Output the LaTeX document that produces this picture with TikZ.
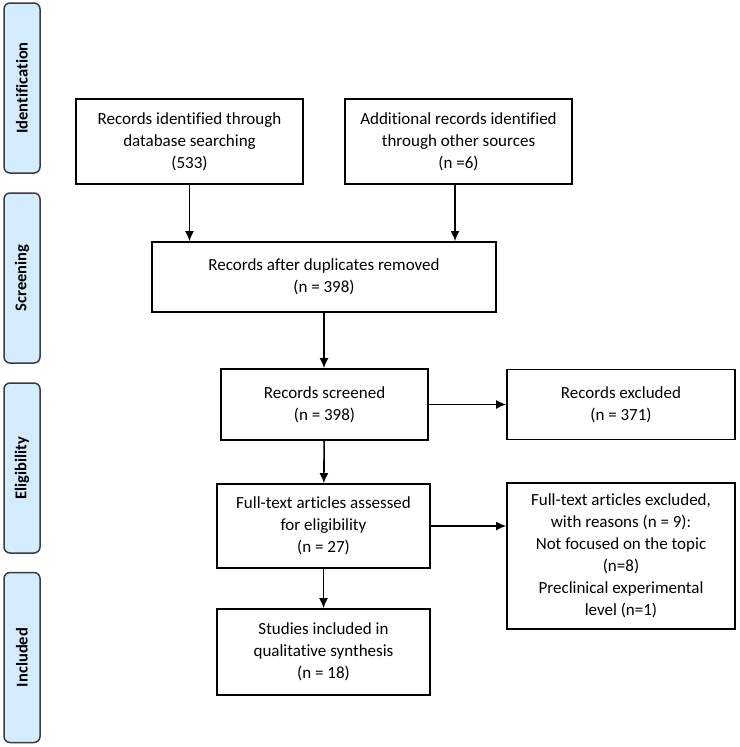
\documentclass[tikz,border=0pt]{standalone}
\usepackage{fontspec}
\setmainfont[Ligatures=NoCommon]{Carlito}
\usetikzlibrary{arrows.meta}
\definecolor{phasefill}{RGB}{211,236,254}
\definecolor{phasedraw}{RGB}{60,60,60}
\tikzset{
	flowbox/.style={draw, line width=1.6pt, align=center, inner sep=0pt, font=\fontsize{17}{22}\selectfont},
	phase/.style={draw=phasedraw, fill=phasefill, line width=1.5pt, rounded corners=6pt, rotate=90,
		minimum width=170pt, minimum height=36pt, inner sep=0pt, font=\bfseries\fontsize{16.5}{20}\selectfont},
	flow/.style={-{Latex[length=10pt,width=9pt]}, line width=1.6pt}
}
\begin{document}
\begin{tikzpicture}[x=1pt,y=-1pt]
			\useasboundingbox (0,0) rectangle (739,747);
			\node[phase] (ident) at (22,88) {Identification};
			\node[phase] (screen) at (22,278) {Screening};
			\node[phase] (elig) at (22,468) {Eligibility};
			\node[phase] (incl) at (22,657.5) {Included};
			
			\node[flowbox, minimum width=227pt, minimum height=85pt] (dbrec) at (189.5,141.5) {Records identified through\\database searching\\(533)};
			\node[flowbox, minimum width=227pt, minimum height=85pt] (otherrec) at (458.5,141.5) {Additional records identified\\through other sources\\(n =6)};
			\node[flowbox, minimum width=344pt, minimum height=70pt] (dupl) at (324,277) {Records after duplicates removed\\(n = 398)};
			\node[flowbox, minimum width=207pt, minimum height=71pt] (screened) at (324.5,404.5) {Records screened\\(n = 398)};
			\node[flowbox, minimum width=228pt, minimum height=70pt] (excl) at (621,404.5) {Records excluded\\(n = 371)};
			\node[flowbox, minimum width=213pt, minimum height=84pt] (fulltext) at (323.5,526) {Full-text articles assessed\\for eligibility\\(n = 27)};
			\node[flowbox, minimum width=228pt, minimum height=146pt] (ftexcl) at (621,556) {Full-text articles excluded,\\with reasons (n = 9):\\Not focused on the topic\\(n=8)\\Preclinical experimental\\level (n=1)};
			\node[flowbox, minimum width=213pt, minimum height=86pt] (studies) at (323.5,652) {Studies included in\\qualitative synthesis\\(n = 18)};
			
			\draw[flow] (dbrec.south) -- (dbrec.south |- dupl.north);
			\draw[flow] ([xshift=-3.5pt]otherrec.south) -- ([xshift=-3.5pt]otherrec.south |- dupl.north);
			\draw[flow] (dupl.south) -- (dupl.south |- screened.north);
			\draw[flow] (screened) -- (excl);
			\draw[flow] (screened) -- (fulltext);
			\draw[flow] (fulltext.east) -- (fulltext.east -| ftexcl.west);
			\draw[flow] (fulltext) -- (studies);
\end{tikzpicture}
\end{document}
